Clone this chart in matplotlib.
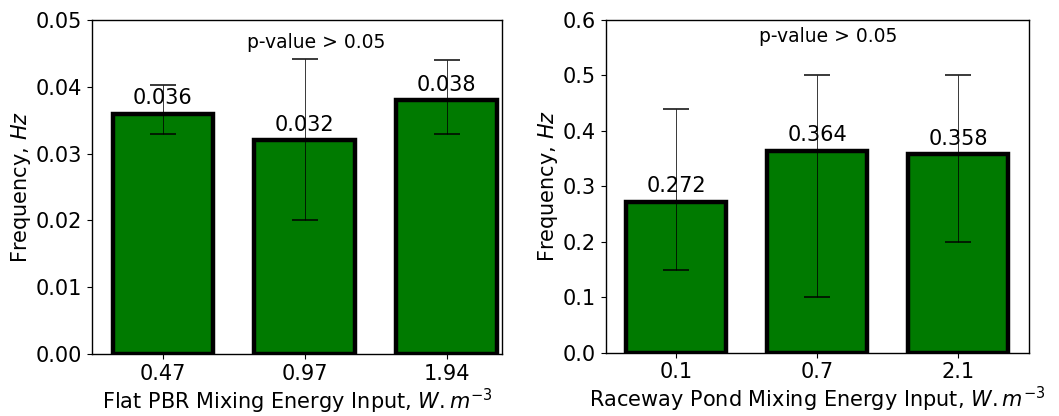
import matplotlib
matplotlib.use("Agg")
import matplotlib.pyplot as plt
import numpy as np

# Left panel: Flat PBR
pbr_labels = ["0.47", "0.97", "1.94"]
pbr_values = [0.036, 0.032, 0.038]
pbr_err_low = [0.033, 0.020, 0.033]
pbr_err_high = [0.0402, 0.0442, 0.0440]

# Right panel: Raceway pond
rw_labels = ["0.1", "0.7", "2.1"]
rw_values = [0.272, 0.364, 0.358]
rw_err_low = [0.15, 0.10, 0.20]
rw_err_high = [0.44, 0.50, 0.50]

fig = plt.figure(figsize=(10.59, 4.16), dpi=100)
ax1 = fig.add_axes([0.0869, 0.149, 0.387, 0.803])
ax2 = fig.add_axes([0.572, 0.152, 0.3994, 0.800])

def panel(ax, labels, vals, lo, hi, ylim, yticks, fmt, xlabel, ptxt_xy, xlim):
    x = np.arange(len(labels))
    vals = np.array(vals)
    yerr = np.vstack([vals - np.array(lo), np.array(hi) - vals])
    ax.bar(x, vals, width=0.71, color="#007a00", edgecolor="black", linewidth=3.2, zorder=2)
    ax.errorbar(x, vals, yerr=yerr, fmt="none", ecolor="black", elinewidth=0.6,
                capsize=9.5, capthick=1.2, zorder=3, alpha=0.9)
    for xi, v in zip(x, vals):
        ax.annotate(fmt.format(v), (xi, v), xytext=(0, 4), textcoords="offset points",
                    ha="center", va="bottom", fontsize=15, zorder=4)
    ax.set_xticks(x)
    ax.set_xticklabels(labels, fontsize=15)
    ax.set_ylim(*ylim)
    ax.set_xlim(*xlim)
    ax.set_yticks(yticks)
    ax.set_yticklabels([("{:.2f}" if ylim[1] < 0.1 else "{:.1f}").format(t) for t in yticks], fontsize=15)
    ax.set_ylabel(r"Frequency, $\it{Hz}$", fontsize=15, labelpad=2)
    ax.set_xlabel(xlabel, fontsize=15, labelpad=2)
    ax.text(ptxt_xy[0], ptxt_xy[1], "p-value > 0.05", transform=ax.transAxes,
            ha="center", va="center", fontsize=13.5)
    for s in ax.spines.values():
        s.set_linewidth(1.0)

panel(ax1, pbr_labels, pbr_values, pbr_err_low, pbr_err_high, (0, 0.05),
      [0, 0.01, 0.02, 0.03, 0.04, 0.05], "{:.3f}",
      r"Flat PBR Mixing Energy Input, $W.m^{-3}$", (0.546, 0.934), (-0.5, 2.39))
panel(ax2, rw_labels, rw_values, rw_err_low, rw_err_high, (0, 0.6),
      [0, 0.1, 0.2, 0.3, 0.4, 0.5, 0.6], "{:.3f}",
      r"Raceway Pond Mixing Energy Input, $W.m^{-3}$", (0.527, 0.949), (-0.5, 2.5))

fig.savefig("out.png", dpi=100)
